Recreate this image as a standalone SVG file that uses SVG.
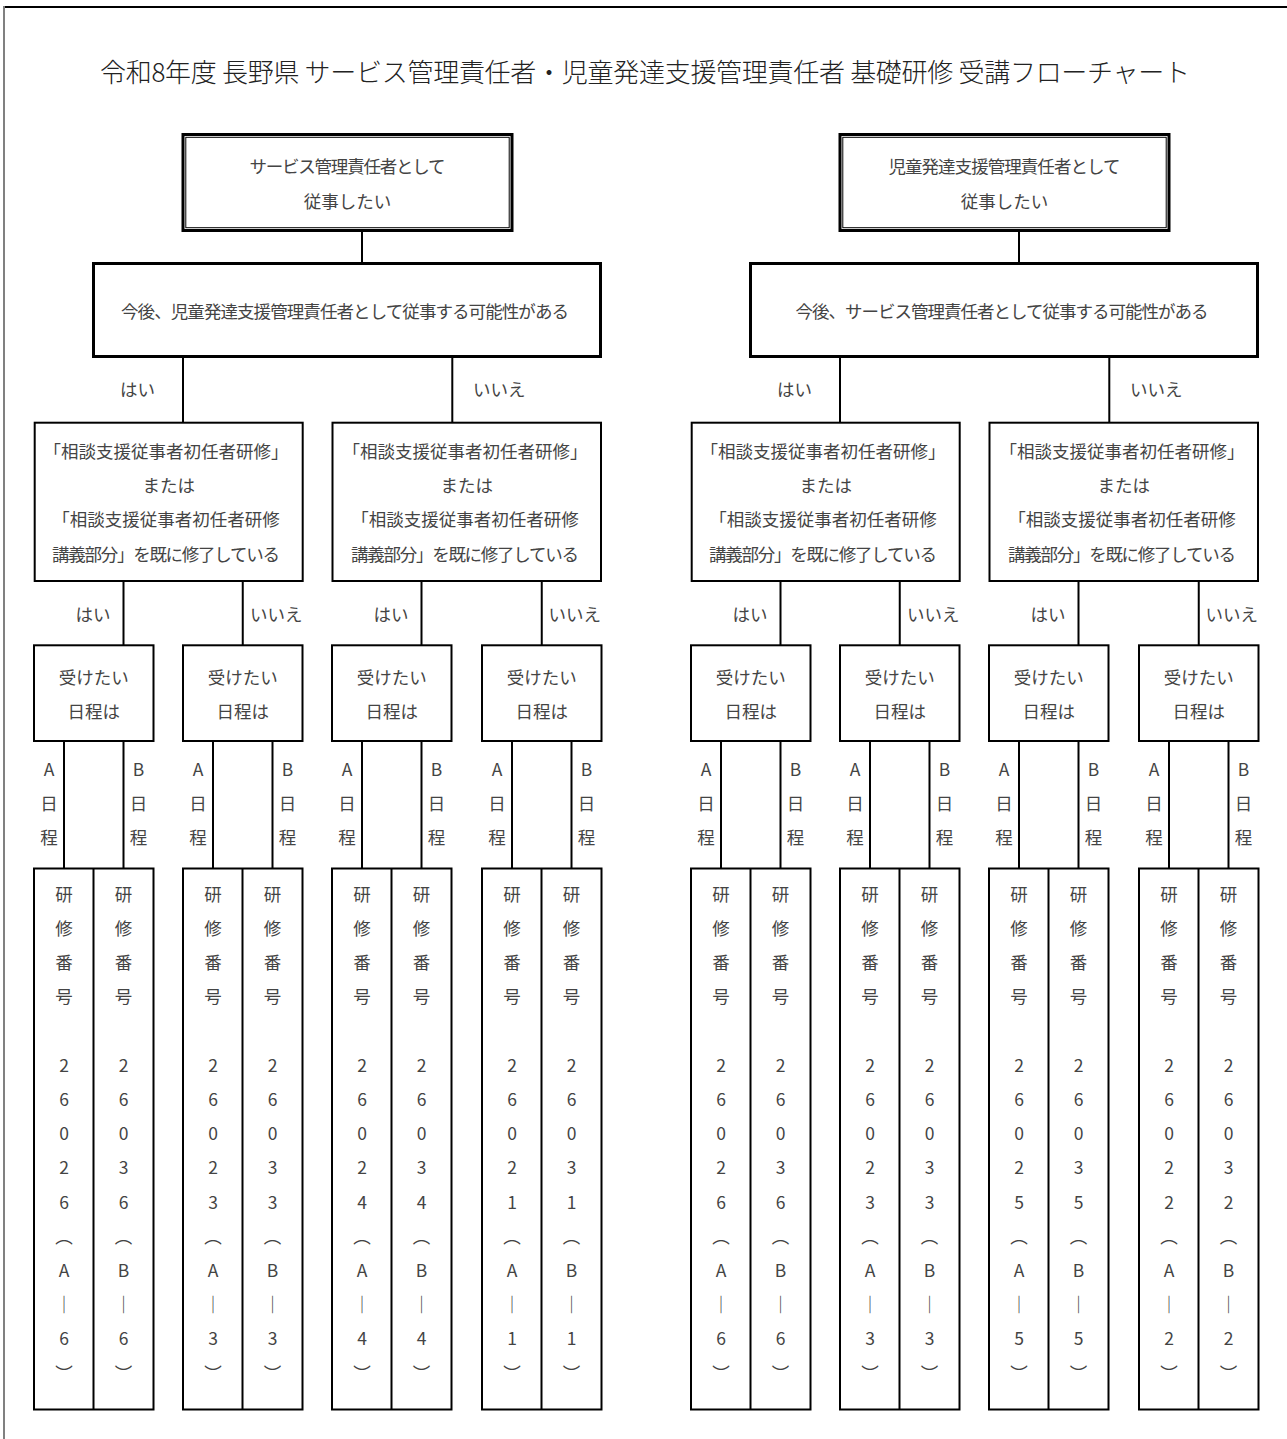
<svg xmlns="http://www.w3.org/2000/svg" width="1287" height="1439" viewBox="0 0 1287 1439">
<style>
.t{font-family:"Noto Sans CJK JP","Noto Sans CJK SC",sans-serif;font-size:17.5px;font-weight:400;fill:#444;text-anchor:middle;dominant-baseline:central}
.s{text-anchor:start}
.e{text-anchor:end}
.ttl{font-size:26px;font-weight:300;fill:#222}
.b{fill:#fff;stroke:#000;stroke-width:2}
.b3{fill:#fff;stroke:#000;stroke-width:3}
.b1{fill:none;stroke:#000;stroke-width:1}
.cn{stroke:#000;stroke-width:2;fill:none}
</style>
<rect width="1287" height="1439" fill="#fff"/>
<g id="frame">
<line x1="3" y1="7" x2="1287" y2="7" stroke="#000" stroke-width="2"/>
<line x1="4" y1="6" x2="4" y2="1439" stroke="#808080" stroke-width="2"/>
</g>
<text id="title" class="t ttl" x="645" y="70" textLength="1090" lengthAdjust="spacing">令和8年度 長野県 サービス管理責任者・児童発達支援管理責任者 基礎研修 受講フローチャート</text>

<g id="connectors">
<path class="cn" d="M362 232V262M183 357V422M452.3 357V422M123.5 582V645M242.75 582V645M421.5 582V645M541.75 582V645"/>
<path class="cn" d="M1019 232V262M840 357V422M1109.3 357V422M780.5 582V645M899.75 582V645M1078.5 582V645M1198.75 582V645"/>
<path class="cn" d="M64 741V868.5M123.5 741V868.5M213 741V868.5M272.5 741V868.5M362 741V868.5M421.5 741V868.5M512 741V868.5M571.5 741V868.5"/>
<path class="cn" d="M721 741V868.5M780.5 741V868.5M870 741V868.5M929.5 741V868.5M1019 741V868.5M1078.5 741V868.5M1169 741V868.5M1228.5 741V868.5"/>
<g id="labels">
<text class="t e" x="155" y="388">はい</text>
<text class="t s" x="473" y="388">いいえ</text>
<text class="t e" x="812" y="388">はい</text>
<text class="t s" x="1130" y="388">いいえ</text>
<text class="t e" x="110.5" y="613">はい</text>
<text class="t s" x="250" y="613">いいえ</text>
<text class="t e" x="408.5" y="613">はい</text>
<text class="t s" x="548.5" y="613">いいえ</text>
<text class="t e" x="767.5" y="613">はい</text>
<text class="t s" x="907" y="613">いいえ</text>
<text class="t e" x="1065.5" y="613">はい</text>
<text class="t s" x="1205.5" y="613">いいえ</text>
<text class="t" x="49 49 49" y="768 802.5 836.8">A日程</text>
<text class="t" x="138.5 138.5 138.5" y="768 802.5 836.8">B日程</text>
<text class="t" x="198 198 198" y="768 802.5 836.8">A日程</text>
<text class="t" x="287.5 287.5 287.5" y="768 802.5 836.8">B日程</text>
<text class="t" x="347 347 347" y="768 802.5 836.8">A日程</text>
<text class="t" x="436.5 436.5 436.5" y="768 802.5 836.8">B日程</text>
<text class="t" x="497 497 497" y="768 802.5 836.8">A日程</text>
<text class="t" x="586.5 586.5 586.5" y="768 802.5 836.8">B日程</text>
<text class="t" x="706 706 706" y="768 802.5 836.8">A日程</text>
<text class="t" x="795.5 795.5 795.5" y="768 802.5 836.8">B日程</text>
<text class="t" x="855 855 855" y="768 802.5 836.8">A日程</text>
<text class="t" x="944.5 944.5 944.5" y="768 802.5 836.8">B日程</text>
<text class="t" x="1004 1004 1004" y="768 802.5 836.8">A日程</text>
<text class="t" x="1093.5 1093.5 1093.5" y="768 802.5 836.8">B日程</text>
<text class="t" x="1154 1154 1154" y="768 802.5 836.8">A日程</text>
<text class="t" x="1243.5 1243.5 1243.5" y="768 802.5 836.8">B日程</text>
</g>
</g>

<g id="start-service">
<rect class="b3" x="183" y="134.5" width="329" height="96"/>
<rect class="b1" x="185.8" y="137.3" width="323.4" height="90.4"/>
<text class="t" x="347.5" y="165" textLength="196" lengthAdjust="spacing">サービス管理責任者として</text>
<text class="t" x="347.5" y="200">従事したい</text>
</g>
<g id="start-child">
<rect class="b3" x="840" y="134.5" width="329" height="96"/>
<rect class="b1" x="842.8" y="137.3" width="323.4" height="90.4"/>
<text class="t" x="1004.5" y="165" textLength="232" lengthAdjust="spacing">児童発達支援管理責任者として</text>
<text class="t" x="1004.5" y="200">従事したい</text>
</g>
<g id="q-left">
<rect class="b3" x="93.5" y="263.5" width="507" height="93"/>
<text class="t" x="345" y="310.5" textLength="448" lengthAdjust="spacing">今後、児童発達支援管理責任者として従事する可能性がある</text>
</g>
<g id="q-right">
<rect class="b3" x="750.5" y="263.5" width="507" height="93"/>
<text class="t" x="1002" y="310.5" textLength="413" lengthAdjust="spacing">今後、サービス管理責任者として従事する可能性がある</text>
</g>
<g id="c1">
<rect class="b" x="34.7" y="422.7" width="268" height="158.3"/>
<text class="t" x="166" y="450">「相談支援従事者初任者研修」</text>
<text class="t" x="168.7" y="484.3">または</text>
<text class="t" x="166" y="518.6">「相談支援従事者初任者研修</text>
<text class="t" x="166" y="553" textLength="228" lengthAdjust="spacing">講義部分」を既に修了している</text>
</g>
<g id="c2">
<rect class="b" x="332.5" y="422.7" width="268.5" height="158.3"/>
<text class="t" x="465" y="450">「相談支援従事者初任者研修」</text>
<text class="t" x="466.7" y="484.3">または</text>
<text class="t" x="465" y="518.6">「相談支援従事者初任者研修</text>
<text class="t" x="465" y="553" textLength="228" lengthAdjust="spacing">講義部分」を既に修了している</text>
</g>
<g id="c3">
<rect class="b" x="691.7" y="422.7" width="268" height="158.3"/>
<text class="t" x="823" y="450">「相談支援従事者初任者研修」</text>
<text class="t" x="825.7" y="484.3">または</text>
<text class="t" x="823" y="518.6">「相談支援従事者初任者研修</text>
<text class="t" x="823" y="553" textLength="228" lengthAdjust="spacing">講義部分」を既に修了している</text>
</g>
<g id="c4">
<rect class="b" x="989.5" y="422.7" width="268.5" height="158.3"/>
<text class="t" x="1122" y="450">「相談支援従事者初任者研修」</text>
<text class="t" x="1123.7" y="484.3">または</text>
<text class="t" x="1122" y="518.6">「相談支援従事者初任者研修</text>
<text class="t" x="1122" y="553" textLength="228" lengthAdjust="spacing">講義部分」を既に修了している</text>
</g>

<g id="d1"><rect class="b" x="34" y="645.3" width="119.5" height="95.7"/><text class="t" x="93.75" y="676">受けたい</text><text class="t" x="93.75" y="710">日程は</text></g>
<g id="d2"><rect class="b" x="183" y="645.3" width="119.5" height="95.7"/><text class="t" x="242.75" y="676">受けたい</text><text class="t" x="242.75" y="710">日程は</text></g>
<g id="d3"><rect class="b" x="332" y="645.3" width="119.5" height="95.7"/><text class="t" x="391.75" y="676">受けたい</text><text class="t" x="391.75" y="710">日程は</text></g>
<g id="d4"><rect class="b" x="482" y="645.3" width="119.5" height="95.7"/><text class="t" x="541.75" y="676">受けたい</text><text class="t" x="541.75" y="710">日程は</text></g>
<g id="d5"><rect class="b" x="691" y="645.3" width="119.5" height="95.7"/><text class="t" x="750.75" y="676">受けたい</text><text class="t" x="750.75" y="710">日程は</text></g>
<g id="d6"><rect class="b" x="840" y="645.3" width="119.5" height="95.7"/><text class="t" x="899.75" y="676">受けたい</text><text class="t" x="899.75" y="710">日程は</text></g>
<g id="d7"><rect class="b" x="989" y="645.3" width="119.5" height="95.7"/><text class="t" x="1048.75" y="676">受けたい</text><text class="t" x="1048.75" y="710">日程は</text></g>
<g id="d8"><rect class="b" x="1139" y="645.3" width="119.5" height="95.7"/><text class="t" x="1198.75" y="676">受けたい</text><text class="t" x="1198.75" y="710">日程は</text></g>

<g id="r1"><rect class="b" x="34" y="868.5" width="119.5" height="541"/><line class="cn" x1="93.5" y1="868.5" x2="93.5" y2="1409.5"/>
<text class="t" x="64 64 64 64 64 64 64 64 64 64 64 64 64 64" y="893.3 927.5 961.7 995.9 1064.3 1098.5 1132.7 1166.9 1201.1 1235.3 1269.5 1303.7 1337.9 1372.1">研修番号26026︵A｜6︶</text>
<text class="t" x="123.5 123.5 123.5 123.5 123.5 123.5 123.5 123.5 123.5 123.5 123.5 123.5 123.5 123.5" y="893.3 927.5 961.7 995.9 1064.3 1098.5 1132.7 1166.9 1201.1 1235.3 1269.5 1303.7 1337.9 1372.1">研修番号26036︵B｜6︶</text></g>
<g id="r2"><rect class="b" x="183" y="868.5" width="119.5" height="541"/><line class="cn" x1="242.5" y1="868.5" x2="242.5" y2="1409.5"/>
<text class="t" x="213 213 213 213 213 213 213 213 213 213 213 213 213 213" y="893.3 927.5 961.7 995.9 1064.3 1098.5 1132.7 1166.9 1201.1 1235.3 1269.5 1303.7 1337.9 1372.1">研修番号26023︵A｜3︶</text>
<text class="t" x="272.5 272.5 272.5 272.5 272.5 272.5 272.5 272.5 272.5 272.5 272.5 272.5 272.5 272.5" y="893.3 927.5 961.7 995.9 1064.3 1098.5 1132.7 1166.9 1201.1 1235.3 1269.5 1303.7 1337.9 1372.1">研修番号26033︵B｜3︶</text></g>
<g id="r3"><rect class="b" x="332" y="868.5" width="119.5" height="541"/><line class="cn" x1="391.5" y1="868.5" x2="391.5" y2="1409.5"/>
<text class="t" x="362 362 362 362 362 362 362 362 362 362 362 362 362 362" y="893.3 927.5 961.7 995.9 1064.3 1098.5 1132.7 1166.9 1201.1 1235.3 1269.5 1303.7 1337.9 1372.1">研修番号26024︵A｜4︶</text>
<text class="t" x="421.5 421.5 421.5 421.5 421.5 421.5 421.5 421.5 421.5 421.5 421.5 421.5 421.5 421.5" y="893.3 927.5 961.7 995.9 1064.3 1098.5 1132.7 1166.9 1201.1 1235.3 1269.5 1303.7 1337.9 1372.1">研修番号26034︵B｜4︶</text></g>
<g id="r4"><rect class="b" x="482" y="868.5" width="119.5" height="541"/><line class="cn" x1="541.5" y1="868.5" x2="541.5" y2="1409.5"/>
<text class="t" x="512 512 512 512 512 512 512 512 512 512 512 512 512 512" y="893.3 927.5 961.7 995.9 1064.3 1098.5 1132.7 1166.9 1201.1 1235.3 1269.5 1303.7 1337.9 1372.1">研修番号26021︵A｜1︶</text>
<text class="t" x="571.5 571.5 571.5 571.5 571.5 571.5 571.5 571.5 571.5 571.5 571.5 571.5 571.5 571.5" y="893.3 927.5 961.7 995.9 1064.3 1098.5 1132.7 1166.9 1201.1 1235.3 1269.5 1303.7 1337.9 1372.1">研修番号26031︵B｜1︶</text></g>
<g id="r5"><rect class="b" x="691" y="868.5" width="119.5" height="541"/><line class="cn" x1="750.5" y1="868.5" x2="750.5" y2="1409.5"/>
<text class="t" x="721 721 721 721 721 721 721 721 721 721 721 721 721 721" y="893.3 927.5 961.7 995.9 1064.3 1098.5 1132.7 1166.9 1201.1 1235.3 1269.5 1303.7 1337.9 1372.1">研修番号26026︵A｜6︶</text>
<text class="t" x="780.5 780.5 780.5 780.5 780.5 780.5 780.5 780.5 780.5 780.5 780.5 780.5 780.5 780.5" y="893.3 927.5 961.7 995.9 1064.3 1098.5 1132.7 1166.9 1201.1 1235.3 1269.5 1303.7 1337.9 1372.1">研修番号26036︵B｜6︶</text></g>
<g id="r6"><rect class="b" x="840" y="868.5" width="119.5" height="541"/><line class="cn" x1="899.5" y1="868.5" x2="899.5" y2="1409.5"/>
<text class="t" x="870 870 870 870 870 870 870 870 870 870 870 870 870 870" y="893.3 927.5 961.7 995.9 1064.3 1098.5 1132.7 1166.9 1201.1 1235.3 1269.5 1303.7 1337.9 1372.1">研修番号26023︵A｜3︶</text>
<text class="t" x="929.5 929.5 929.5 929.5 929.5 929.5 929.5 929.5 929.5 929.5 929.5 929.5 929.5 929.5" y="893.3 927.5 961.7 995.9 1064.3 1098.5 1132.7 1166.9 1201.1 1235.3 1269.5 1303.7 1337.9 1372.1">研修番号26033︵B｜3︶</text></g>
<g id="r7"><rect class="b" x="989" y="868.5" width="119.5" height="541"/><line class="cn" x1="1048.5" y1="868.5" x2="1048.5" y2="1409.5"/>
<text class="t" x="1019 1019 1019 1019 1019 1019 1019 1019 1019 1019 1019 1019 1019 1019" y="893.3 927.5 961.7 995.9 1064.3 1098.5 1132.7 1166.9 1201.1 1235.3 1269.5 1303.7 1337.9 1372.1">研修番号26025︵A｜5︶</text>
<text class="t" x="1078.5 1078.5 1078.5 1078.5 1078.5 1078.5 1078.5 1078.5 1078.5 1078.5 1078.5 1078.5 1078.5 1078.5" y="893.3 927.5 961.7 995.9 1064.3 1098.5 1132.7 1166.9 1201.1 1235.3 1269.5 1303.7 1337.9 1372.1">研修番号26035︵B｜5︶</text></g>
<g id="r8"><rect class="b" x="1139" y="868.5" width="119.5" height="541"/><line class="cn" x1="1198.5" y1="868.5" x2="1198.5" y2="1409.5"/>
<text class="t" x="1169 1169 1169 1169 1169 1169 1169 1169 1169 1169 1169 1169 1169 1169" y="893.3 927.5 961.7 995.9 1064.3 1098.5 1132.7 1166.9 1201.1 1235.3 1269.5 1303.7 1337.9 1372.1">研修番号26022︵A｜2︶</text>
<text class="t" x="1228.5 1228.5 1228.5 1228.5 1228.5 1228.5 1228.5 1228.5 1228.5 1228.5 1228.5 1228.5 1228.5 1228.5" y="893.3 927.5 961.7 995.9 1064.3 1098.5 1132.7 1166.9 1201.1 1235.3 1269.5 1303.7 1337.9 1372.1">研修番号26032︵B｜2︶</text></g>
</svg>
